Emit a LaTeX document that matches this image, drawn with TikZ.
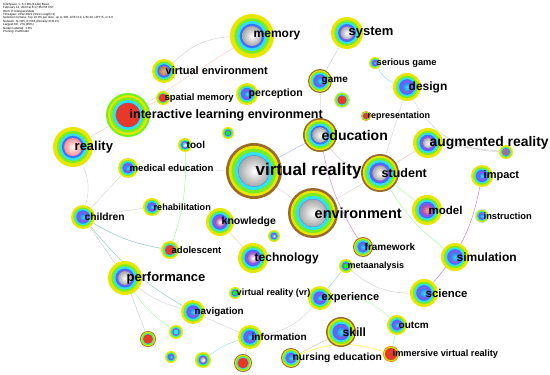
\documentclass[tikz,border=0pt]{standalone}
\usepackage{fontspec}
\setmainfont{Liberation Sans}
\usetikzlibrary{backgrounds}

\definecolor{ringY}{HTML}{E6E600}
\definecolor{ringG}{HTML}{77EE22}
\definecolor{ringC}{HTML}{33E0EE}
\definecolor{ringB}{HTML}{3377FF}
\definecolor{ringV}{HTML}{8855EE}
\definecolor{ringBr}{HTML}{9A6A2A}
\definecolor{burst}{HTML}{E8382A}
\definecolor{core}{HTML}{A8A8A8}

\tikzset{
  kw/.style={circle,inner sep=0pt},
  lbl/.style={anchor=west,inner sep=0pt,text=black},
  lk/.style={line width=0.5pt},
}

\begin{document}
\begin{tikzpicture}[x=1pt,y=-1pt]
\useasboundingbox (0,0) rectangle (550,375);

\node[anchor=north west,align=left,inner sep=0pt,font=\fontsize{3}{3.4}\selectfont] (info) at (3,3)
  {CiteSpace, v. 6.1.R6 (64-bit) Basic\\
   February 13, 2023 at 8:17:36 PM CST\\
   WoS: E:\textbackslash citespace\textbackslash data\\
   Timespan: 2012-2022 (Slice Length=1)\\
   Selection Criteria: Top 10.0\% per slice, up to 100, LRF=3.0, L/N=10, LBY=5, e=1.0\\
   Network: N=325, E=565 (Density=0.0107)\\
   Largest CC: 278 (85\%)\\
   Nodes Labeled: 1.0\%\\
   Pruning: Pathfinder};

% keyword nodes: name/x/y/radius/outer ring/core inside/core edge/core size
\foreach \n/\x/\y/\r/\o/\i/\c/\k in {
  memory/252/36/22/ringY/white/core/0.45, system/347/33/16/ringY/white/core/0.4,
  virtualenv/164/71/12/ringY/brown!60/brown/0.4, spatialmem/163/98/7/ringY/burst/burst/0.6,
  perception/247/94/11/ringY/ringC/ringB/0.3, game/320/81/12/ringBr/ringC/ringB/0.35,
  redgame/342/100/8/cyan!30/burst/burst/0.55, seriousgame/375/63/6/ringY/ringC/ringB/0.3,
  design/407/87/14/ringY/ringC/ringB/0.35, representation/366/116/5/orange/burst/burst/0.6,
  ile/128/115/22/ringG/burst/burst/0.55, reality/73/147/20/ringY/white/red!45/0.45,
  medicaled/128/168/10/ringY/ringC/ringB/0.3, tool/185/145/7/ringY/white/ringC/0.35,
  dotA/228/133/6/ringY/green/green/0.35, vr/254/171/28/ringBr/white/core/0.55,
  education/320/135/17/ringBr/white/core/0.45, augreal/428/143/15/ringY/white/core/0.35,
  dotB/506/152/7/ringY/gray/violet!60/0.5, student/380/173/19/ringBr/white/core/0.4,
  impact/482/176/11/ringY/ringC/ringB/0.3, model/427/210/15/ringY/red!40/violet!70/0.35,
  instruction/482/216/7/cyan!30/ringC/ringB/0.35, environment/313/213/25/ringBr/white/core/0.55,
  knowledge/220/222/14/ringY/white/violet!70/0.35, dotC/274/236/6/ringY/white/ringB/0.35,
  children/83/217/12/ringY/ringC/ringB/0.3, rehab/152/207/9/ringY/ringC/ringB/0.3,
  adolescent/170/250/9/ringY/burst/burst/0.55, technology/253/258/15/ringY/white/violet!60/0.35,
  framework/363/247/10/ringBr/ringC/ringB/0.35, metaanalysis/346/266/7/ringY/green/green/0.35,
  performance/125/278/17/ringY/white/core/0.4, simulation/455/257/14/ringY/ringC/ringB/0.35,
  vrvr/235/293/6/ringY/green/green/0.35, experience/320/298/12/ringY/ringC/ringB/0.3,
  science/424/293/14/ringY/ringC/ringB/0.35, navigation/193/312/12/ringY/ringC/ringB/0.3,
  information/250/337/12/ringY/ringC/ringB/0.3, skill/341/332/15/ringBr/ringC/ringB/0.35,
  outcm/397/325/10/ringY/ringC/ringB/0.3, nursing/291/358/10/ringBr/ringC/ringB/0.35,
  immersive/391/354/8/orange/burst/burst/0.75, redA/148/339/8/ringBr/burst/burst/0.6,
  dotD/176/332/7/ringY/ringC/ringC/0.35, dotE/171/357/6/ringY/ringC/ringB/0.35,
  dotF/203/360/8/ringY/white/core/0.35, redB/243/363/9/ringBr/burst/burst/0.6}{
  \fill[\o] (\x,\y) circle (\r);
  \fill[ringY] (\x,\y) circle (0.9*\r);
  \fill[ringG] (\x,\y) circle (0.8*\r);
  \fill[ringC] (\x,\y) circle (0.68*\r);
  \fill[ringB] (\x,\y) circle (0.56*\r);
  \fill[ringV] (\x,\y) circle (0.47*\r);
  \shade[inner color=\i,outer color=\c] (\x,\y) circle (\k*\r);
  \node[kw,minimum size=2*\r*1pt] (\n) at (\x,\y) {};
}

% labels
\foreach \n/\t/\s in {
  memory/memory/12, system/system/13, virtualenv/virtual environment/11,
  spatialmem/spatial memory/9.4, perception/perception/10.6, game/game/10,
  seriousgame/serious game/9.3, design/design/12, representation/representation/9,
  ile/interactive learning environment/12.5, reality/reality/13,
  medicaled/medical education/9.6, tool/tool/10, vr/virtual reality/17,
  education/education/14, augreal/augmented reality/13.9, student/student/12.5,
  impact/impact/11, model/model/11.5, instruction/instruction/9.3,
  environment/environment/14.5, knowledge/knowledge/10.5, children/children/10.3,
  rehab/rehabilitation/9.1, adolescent/adolescent/9.5, technology/technology/12,
  framework/framework/10, metaanalysis/metaanalysis/9, performance/performance/13,
  simulation/simulation/12, vrvr/virtual reality (vr)/9.1, experience/experience/11,
  science/science/11.4, navigation/navigation/9.8, information/information/10,
  skill/skill/12, outcm/outcm/10, nursing/nursing education/10.3,
  immersive/immersive virtual reality/9.2}{
  \node[lbl,font=\bfseries\fontsize{\s}{\s}\selectfont] (\n-lbl) at ([xshift=1.5pt]\n.center) {\t};
}

\begin{scope}[on background layer]
\fill[white] (0,0) rectangle (550,375);
\foreach \a/\b/\c/\bnd in {
  memory/virtualenv/gray!35/-20, memory/ile/red!20/0, system/game/gray!35/0,
  seriousgame/design/cyan!40/-20, design/dotB/gray!30/-30, design/student/gray!30/0,
  augreal/dotB/gray!45/0, augreal/student/red!25/0, student/education/gray!35/20,
  student/model/green!35/0, student/simulation/green!35/-10, impact/science/violet!45/15,
  vr/education/blue!25/0, vr/environment/gray!25/0, environment/student/gray!30/0,
  education/framework/violet!40/-10, metaanalysis/science/gray!35/-20,
  metaanalysis/experience/cyan!40/0, experience/information/gray!30/20,
  experience/outcm/green!30/25, outcm/immersive/green!45/0,
  nursing/immersive/yellow!75/20, nursing/skill/brown!40/0,
  information/navigation/gray!30/0, information/redB/gray!30/0,
  information/dotF/cyan!35/-10, navigation/performance/gray!30/10,
  performance/children/gray!35/0, children/reality/gray!30/-20,
  children/medicaled/gray!30/0, children/adolescent/teal!45/-10,
  children/navigation/teal!40/-10, tool/adolescent/green!40/10,
  reality/ile/gray!30/0, performance/redA/gray!35/0, performance/dotD/green!35/-10,
  technology/knowledge/gray!30/0, spatialmem/ile/red!20/0, game/education/gray!30/0,
  medicaled/vr/gray!25/0, rehab/children/gray!30/0}{
  \draw[lk,draw=\c] (\a) to[bend left=\bnd] (\b);
}
\end{scope}
\end{tikzpicture}
\end{document}
